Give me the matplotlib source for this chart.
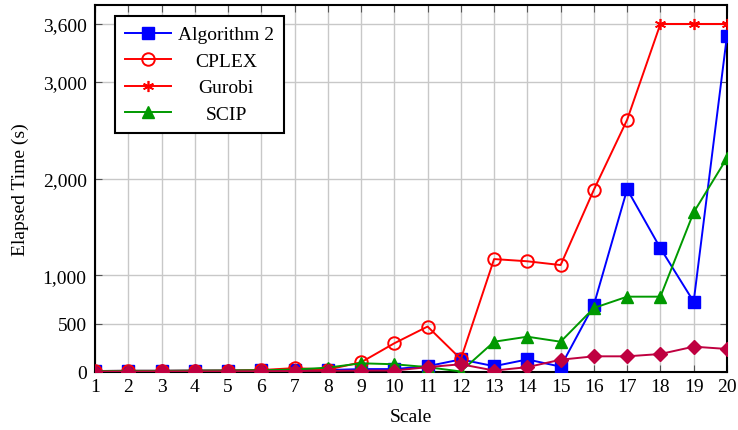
import numpy as np
import matplotlib.pyplot as plt
from matplotlib.ticker import FuncFormatter

plt.rcParams['font.family'] = ['Liberation Serif', 'DejaVu Serif']
plt.rcParams['font.size'] = 14

# datos
scale = np.arange(1, 21)
alg2 = [10, 12, 12, 14, 15, 18, 25, 20, 30, 30, 60, 130, 60, 130, 55, 695, 1890, 1280, 727, 3475]
cplex = [10, 12, 12, 14, 15, 20, 40, 25, 100, 297, 470, 134, 1168, 1145, 1106, 1885, 2609, 3600, 3600, 3600]
gurobi = [np.nan] * 17 + [3600, 3600, 3600]
scip = [10, 12, 12, 14, 15, 18, 25, 45, 90, 80, 50, 5, 313, 365, 313, 662, 779, 779, 1651, 2213]
otro = [5, 5, 6, 6, 7, 8, 10, 12, 15, 15, 50, 80, 15, 50, 127, 162, 162, 186, 262, 238]

fig = plt.figure(figsize=(7.38, 4.31), dpi=100)
ax = fig.add_axes([0.1287, 0.1346, 0.8563, 0.8515])

ax.plot(scale, alg2, color='blue', lw=1.4, marker='s', ms=8.5, label='Algorithm 2', zorder=3)
ax.plot(scale, cplex, color='red', lw=1.4, marker='o', ms=9, mfc='none', mew=1.4,
        markevery=list(range(17)), label='CPLEX', zorder=3)
ax.plot(scale, gurobi, color='red', lw=1.4, marker=(6, 2, 0), ms=8, mew=1.2, label='Gurobi', zorder=3)
ax.plot(scale, scip, color='#009900', lw=1.4, marker='^', ms=9, label='SCIP', zorder=3)
ax.plot(scale, otro, color='#BF0040', lw=1.4, marker='D', ms=7.5, zorder=4)

ax.set_xlim(1, 20)
ax.set_ylim(0, 3796)
ax.set_xticks(scale)
ax.set_yticks([0, 500, 1000, 2000, 3000, 3600])
ax.yaxis.set_major_formatter(FuncFormatter(lambda v, p: f'{int(v):,}'))
ax.grid(True, color='#c8c8c8', lw=1)
ax.set_axisbelow(True)
ax.tick_params(direction='in', top=True, right=True, length=5, color='#555555', labelsize=14)
ax.tick_params(axis='x', pad=4)
ax.tick_params(axis='y', pad=6)
for s in ax.spines.values():
    s.set_linewidth(1.5)

ax.set_xlabel('Scale', fontsize=14, labelpad=10)
ax.set_ylabel('Elapsed Time (s)', fontsize=14, labelpad=10)

leg = ax.legend(loc='upper left', bbox_to_anchor=(0.0316, 0.97), fancybox=False,
                edgecolor='black', framealpha=1, handlelength=2.4, handletextpad=0.35,
                borderpad=0.5, labelspacing=0.46, borderaxespad=0, fontsize=14)
leg.get_frame().set_linewidth(1.5)

# centrar los textos de la leyenda como en el original
fig.canvas.draw()
r = fig.canvas.get_renderer()
cajas = [t.get_window_extent(r) for t in leg.get_texts()]
x0 = min(b.x0 for b in cajas)
ancho = max(b.width for b in cajas)
for t, b in zip(leg.get_texts(), cajas):
    txt = t.get_text()
    t.set_visible(False)
    fig.text((x0 + ancho / 2) / fig.bbox.width, (b.y0 + b.height / 2) / fig.bbox.height,
             txt, ha='center', va='center', fontsize=14, zorder=10)

fig.savefig('out.png', dpi=100)
